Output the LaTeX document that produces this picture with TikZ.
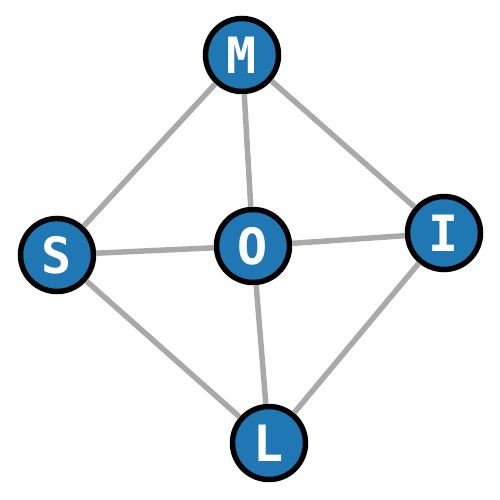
\documentclass[tikz,border=0pt]{standalone}
\usepackage{fontspec}
\newfontfamily\monob{DejaVu Sans Mono}
\definecolor{nodeblue}{HTML}{1F77B4}
\definecolor{edgegray}{HTML}{A9A9A9}
\begin{document}
\begin{tikzpicture}[x=1pt,y=-1pt,
  vert/.style={circle,draw=black,line width=5.5pt,fill=nodeblue,minimum size=73pt,inner sep=0pt,
    text=white,font=\monob\bfseries\fontsize{50}{50}\selectfont},
  edge/.style={edgegray,line width=5.5pt}]
\useasboundingbox (0,0) rectangle (500,500);
\node[vert] (M) at (242,55) {M};
\node[vert] (S) at (57,255) {S};
\node[vert] (O) at (253,246) {O};
\node[vert] (I) at (444,233) {I};
\node[vert] (L) at (269,443) {L};
\draw[edge] (M) -- (S);
\draw[edge] (M) -- (O);
\draw[edge] (M) -- (I);
\draw[edge] (S) -- (O);
\draw[edge] (O) -- (I);
\draw[edge] (S) -- (L);
\draw[edge] (O) -- (L);
\draw[edge] (I) -- (L);
\end{tikzpicture}
\end{document}
